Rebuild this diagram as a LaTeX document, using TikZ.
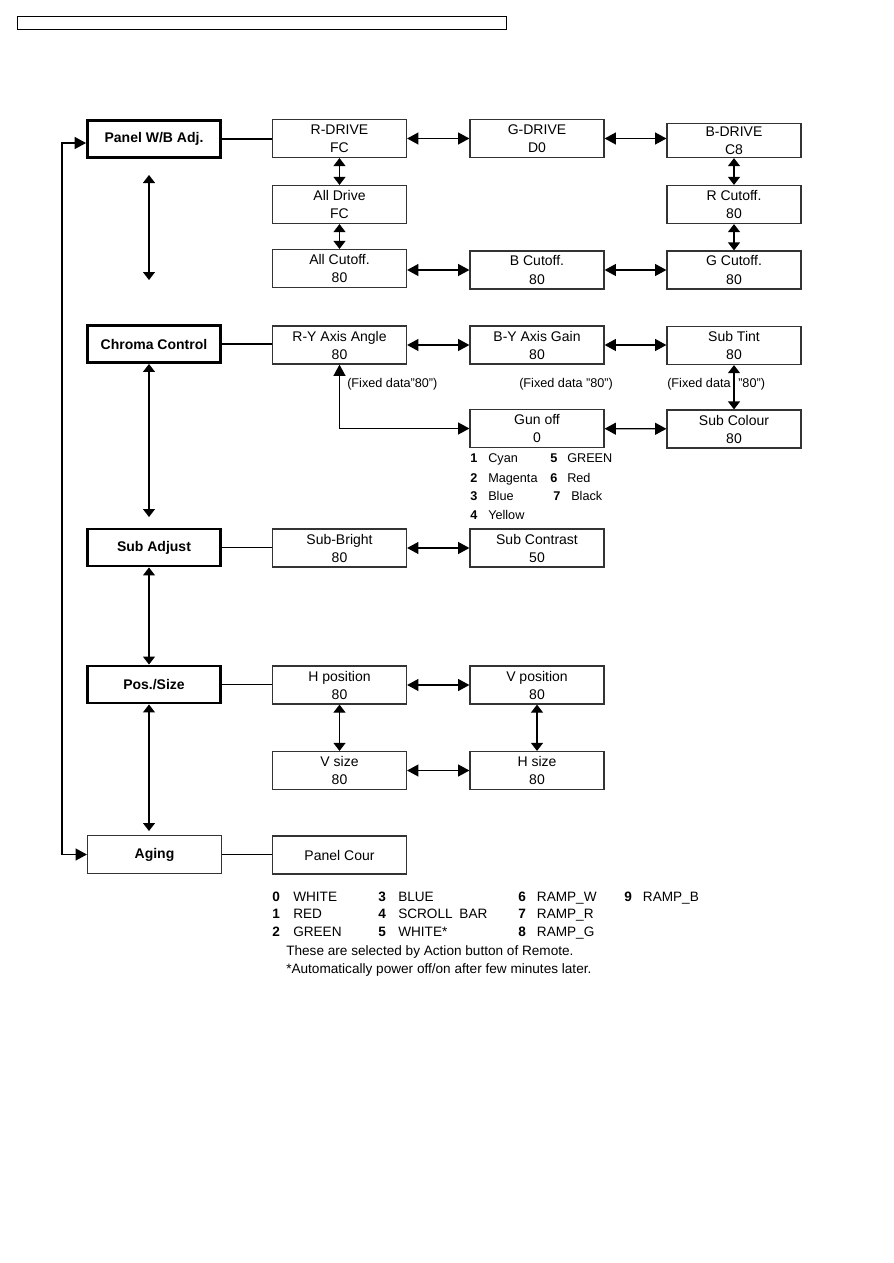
\documentclass[tikz,border=0pt]{standalone}
\usepackage{fontspec}
\setmainfont{Liberation Sans}
\usepackage{tikz}
\usetikzlibrary{arrows.meta,positioning}
\definecolor{framecolor}{HTML}{333333}
\newcommand{\legnum}[2]{\makebox[#1][l]{\bfseries #2}}

\begin{document}
\begin{tikzpicture}[
    x=0.75pt, y=-0.75pt,
    menu/.style={draw, line width=2.2pt, minimum width=99.75pt, minimum height=27.75pt,
                 inner sep=0pt, font=\fontsize{10.5}{13.5}\selectfont\bfseries},
    item/.style={draw=framecolor, line width=0.9pt, minimum width=100.5pt, minimum height=28.5pt,
                 inner sep=0pt, align=center, font=\fontsize{10.5}{13.5}\selectfont},
    arr/.style={{Triangle[length=8.5pt,width=9pt]}-{Triangle[length=8.5pt,width=9pt]}, line width=0.9pt},
    short/.style={{Triangle[length=6pt,width=9pt]}-{Triangle[length=6pt,width=9pt]}, line width=0.9pt},
    link/.style={line width=0.9pt},
    note/.style={anchor=base west, inner sep=0pt, font=\fontsize{9.5}{11}\selectfont},
    legend/.style={anchor=base west, inner sep=0pt, font=\fontsize{10.2}{12}\selectfont}
]
\useasboundingbox (0,0) rectangle (893,1263);

% Header strip
\node[draw, line width=0.75pt, minimum width=366.75pt, minimum height=9.75pt, inner sep=0pt] (header) at (261.5,23.5) {};

% Panel W/B Adj.
\node[menu] (panel) at (154,139) {Panel W/B Adj.};
\node[item] (rdrive) at (339.5,138.5) {R-DRIVE\\FC};
\node[item] (gdrive) at (537,138.5) {G-DRIVE\\D0};
\node[item, minimum height=25.5pt] (bdrive) at (734,140.5) {B-DRIVE\\C8};
\node[item] (alldrive) at (339.5,204.5) {All Drive\\FC};
\node[item] (rcut) at (734,204.5) {R Cutoff.\\80};
\node[item] (allcut) at (339.5,268.5) {All Cutoff.\\80};
\node[item] (bcut) at (537,270) {B Cutoff.\\80};
\node[item] (gcut) at (734,270) {G Cutoff.\\80};

\draw[link] (panel.east) -- (panel.east -| rdrive.west);
\draw[arr] (rdrive) -- (gdrive);
\draw[arr] (gdrive.east) -- (gdrive.east -| bdrive.west);
\draw[short] (rdrive) -- (alldrive);
\draw[short] (alldrive) -- (allcut);
\draw[short] (bdrive) -- (rcut);
\draw[short] (rcut) -- (gcut);
\draw[arr] (bcut.west -| allcut.east) -- (bcut.west);
\draw[arr] (bcut) -- (gcut);
\coordinate (pwtop) at (149,175);
\coordinate (pwbot) at (149,280);
\draw[short] (pwtop) -- (pwbot);

% Chroma Control
\node[menu] (chroma) at (154,344) {Chroma Control};
\node[item] (ryangle) at (339.5,345) {R-Y Axis Angle\\80};
\node[item] (bygain) at (537,345) {B-Y Axis Gain\\80};
\node[item] (subtint) at (734,345.5) {Sub Tint\\80};
\node[item] (gunoff) at (537,428.5) {Gun off\\0};
\node[item] (subcolour) at (734,429) {Sub Colour\\80};

\draw[link] (chroma.east) -- (chroma.east -| ryangle.west);
\draw[arr] (ryangle) -- (bygain);
\draw[arr] (bygain.east) -- (bygain.east -| subtint.west);
\draw[short] (subtint) -- (subcolour);
\draw[arr] (gunoff) -- (subcolour);
\draw[arr] (gunoff.west) -| (ryangle.south);
\coordinate (chbot) at (149,517);
\draw[short] (chroma.south -| chbot) -- (chbot);

\node[note] (fix1) at (347,387.5) {(Fixed data"80")};
\node[note] (fix2) at (519,387.5) {(Fixed data "80")};
\node[note] (fix3a) at (667,387.5) {(Fixed data};
\node[note] (fix3b) at (738,387.5) {"80")};

% Gun off codes
\node[note] (gun1) at (470,462.5) {\legnum{13.5pt}{1}Cyan};
\node[note] (gun2) at (470,482.5) {\legnum{13.5pt}{2}Magenta};
\node[note] (gun3) at (470,500.5) {\legnum{13.5pt}{3}Blue};
\node[note] (gun4) at (470,519.5) {\legnum{13.5pt}{4}Yellow};
\node[note] (gun5) at (550,462.5) {\legnum{12.75pt}{5}GREEN};
\node[note] (gun6) at (550,482.5) {\legnum{12.75pt}{6}Red};
\node[note] (gun7) at (553,500.5) {\legnum{13.5pt}{7}Black};

% Sub Adjust
\node[menu] (subadj) at (154,547.5) {Sub Adjust};
\node[item] (subbright) at (339.5,548) {Sub-Bright\\80};
\node[item] (subcontrast) at (537,548) {Sub Contrast\\50};

\draw[link] (subadj.east) -- (subadj.east -| subbright.west);
\draw[arr] (subbright) -- (subcontrast);

% Pos./Size
\node[menu] (possize) at (154,684.5) {Pos./Size};
\node[item] (hpos) at (339.5,685) {H position\\80};
\node[item] (vpos) at (537,685) {V position\\80};
\node[item] (vsize) at (339.5,770.5) {V size\\80};
\node[item] (hsize) at (537,770.5) {H size\\80};

\draw[short] (subadj.south -| chbot) -- (possize.north -| chbot);
\draw[link] (possize.east) -- (possize.east -| hpos.west);
\draw[arr] (hpos) -- (vpos);
\draw[short] (hpos) -- (vsize);
\draw[short] (vpos) -- (hsize);
\draw[arr] (vsize) -- (hsize);
\coordinate (psbot) at (149,831);
\draw[short] (possize.south -| psbot) -- (psbot);

% Aging
\node[item, font=\fontsize{10.5}{13.5}\selectfont\bfseries] (aging) at (154.5,854.5) {Aging};
\node[item] (panelcour) at (339.5,855) {Panel Cour};

\draw[link] (aging.east) -- (aging.east -| panelcour.west);
\coordinate (loop) at (62,0);
\draw[arr] (aging.west) -- (aging.west -| loop) |- ([yshift=-3pt]panel.west);

% Panel Cour patterns
\node[legend] (pc0) at (272,901) {\legnum{15.75pt}{0}WHITE};
\node[legend] (pc1) at (272,918) {\legnum{15.75pt}{1}RED};
\node[legend] (pc2) at (272,936) {\legnum{15.75pt}{2}GREEN};
\node[legend] (pc3) at (378,901) {\legnum{15pt}{3}BLUE};
\node[legend] (pc4) at (378,918) {\legnum{15pt}{4}SCROLL\hspace{0.5em}BAR};
\node[legend] (pc5) at (378,936) {\legnum{15pt}{5}WHITE*};
\node[legend] (pc6) at (518,901) {\legnum{14pt}{6}RAMP\_W};
\node[legend] (pc7) at (518,918) {\legnum{14pt}{7}RAMP\_R};
\node[legend] (pc8) at (518,936) {\legnum{14pt}{8}RAMP\_G};
\node[legend] (pc9) at (624,901) {\legnum{14pt}{9}RAMP\_B};
\node[legend] (pcnote1) at (286,955) {These are selected by Action button of Remote.};
\node[legend] (pcnote2) at (286,973) {*Automatically power off/on after few minutes later.};

\end{tikzpicture}
\end{document}
